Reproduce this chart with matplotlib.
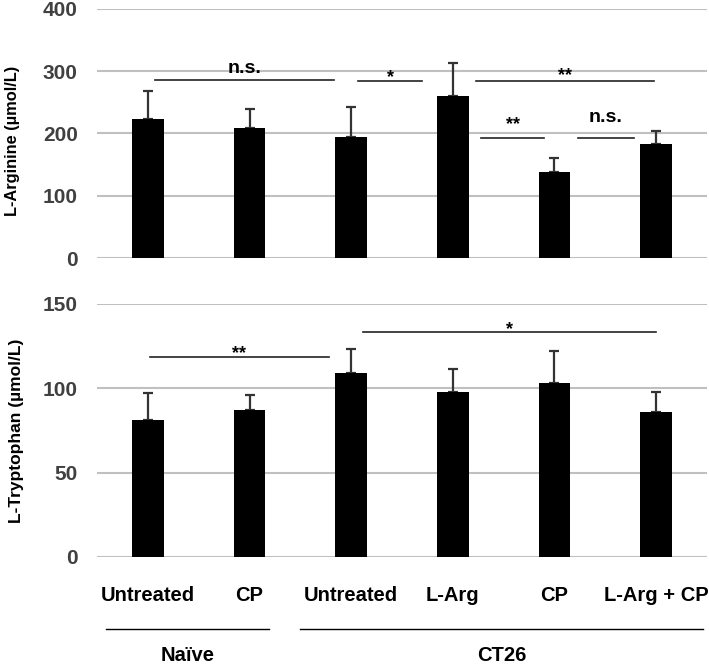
import numpy as np
import matplotlib.pyplot as plt

plt.rcParams['font.family'] = ['Liberation Sans', 'DejaVu Sans']
plt.rcParams['font.weight'] = 'bold'

# Data
groups = ["Untreated", "CP", "Untreated", "L-Arg", "CP", "L-Arg + CP"]
arg_mean = [223, 209, 194, 260, 138, 183]
arg_err = [45, 30, 49, 53, 23, 21]
trp_mean = [81, 87, 109, 98, 103, 86]
trp_err = [16, 9, 14, 13.5, 19, 12]

x = np.arange(len(groups))

fig = plt.figure(figsize=(7.09, 6.66), dpi=100)
ax1 = fig.add_axes([0.137, 0.6126, 0.86, 0.374])
ax2 = fig.add_axes([0.137, 0.1637, 0.86, 0.38])

def style(ax, means, errs, ymax, step):
    ax.bar(x, means, width=0.31, color='black', zorder=3)
    ax.errorbar(x, means, yerr=[np.zeros(len(x)), errs],
                fmt='none', ecolor='#333333', elinewidth=1.6, capsize=3.5,
                capthick=1.6, zorder=2)
    ax.set_xlim(-0.5, 5.5)
    ax.set_ylim(0, ymax)
    ax.set_yticks(np.arange(0, ymax + 1, step))
    ax.grid(axis='y', color='#c0c0c0', linewidth=1.5, zorder=0)
    for s in ax.spines.values():
        s.set_visible(False)
    ax.tick_params(axis='y', length=0, pad=14, labelsize=15, labelcolor='#404040')
    ax.tick_params(axis='x', length=0)

style(ax1, arg_mean, arg_err, 400, 100)
style(ax2, trp_mean, trp_err, 150, 50)
for lab in ax1.get_yticklabels() + ax2.get_yticklabels():
    lab.set_fontweight('bold')

ax1.set_xticks([])
ax2.set_xticks(x)
ax2.set_xticklabels(groups, fontsize=14.5, fontweight='bold')
ax2.tick_params(axis='x', pad=21)

ax1.set_ylabel("L-Arginine (µmol/L)", fontsize=11.8, fontweight='bold')
ax2.set_ylabel("L-Tryptophan (µmol/L)", fontsize=12.5, fontweight='bold')
ax1.yaxis.set_label_coords(-0.126, 0.47)
ax2.yaxis.set_label_coords(-0.12, 0.5)

# significance brackets
def sig(ax, x0, x1, y, text, ty, size):
    ax.plot([x0, x1], [y, y], color='#222222', lw=1.2, zorder=4, clip_on=False)
    ax.text((x0 + x1) / 2, ty, text, ha='center', va='center',
            fontsize=size, fontweight='bold')

sig(ax1, 0.07, 1.83, 286, "n.s.", 305, 14)
sig(ax1, 2.07, 2.70, 284, "*", 290, 13)
sig(ax1, 3.23, 4.98, 284, "**", 293, 13)
sig(ax1, 3.28, 3.90, 193, "**", 214, 13)
sig(ax1, 4.23, 4.78, 193, "n.s.", 225, 14)

sig(ax2, 0.02, 1.78, 118.6, "**", 120.5, 13)
sig(ax2, 2.12, 5.00, 133.4, "*", 135, 13)

# group lines below the x axis
tr = ax2.get_xaxis_transform()
ax2.plot([-0.41, 1.19], [-0.285, -0.285], color='black', lw=1.0,
         transform=tr, clip_on=False)
ax2.plot([1.50, 5.46], [-0.285, -0.285], color='black', lw=1.0,
         transform=tr, clip_on=False)
ax2.text(0.39, -0.39, "Naïve", transform=tr, ha='center', va='center',
         fontsize=14.5, fontweight='bold')
ax2.text(3.48, -0.39, "CT26", transform=tr, ha='center', va='center',
         fontsize=14.5, fontweight='bold')

fig.savefig("out.png", dpi=100)
